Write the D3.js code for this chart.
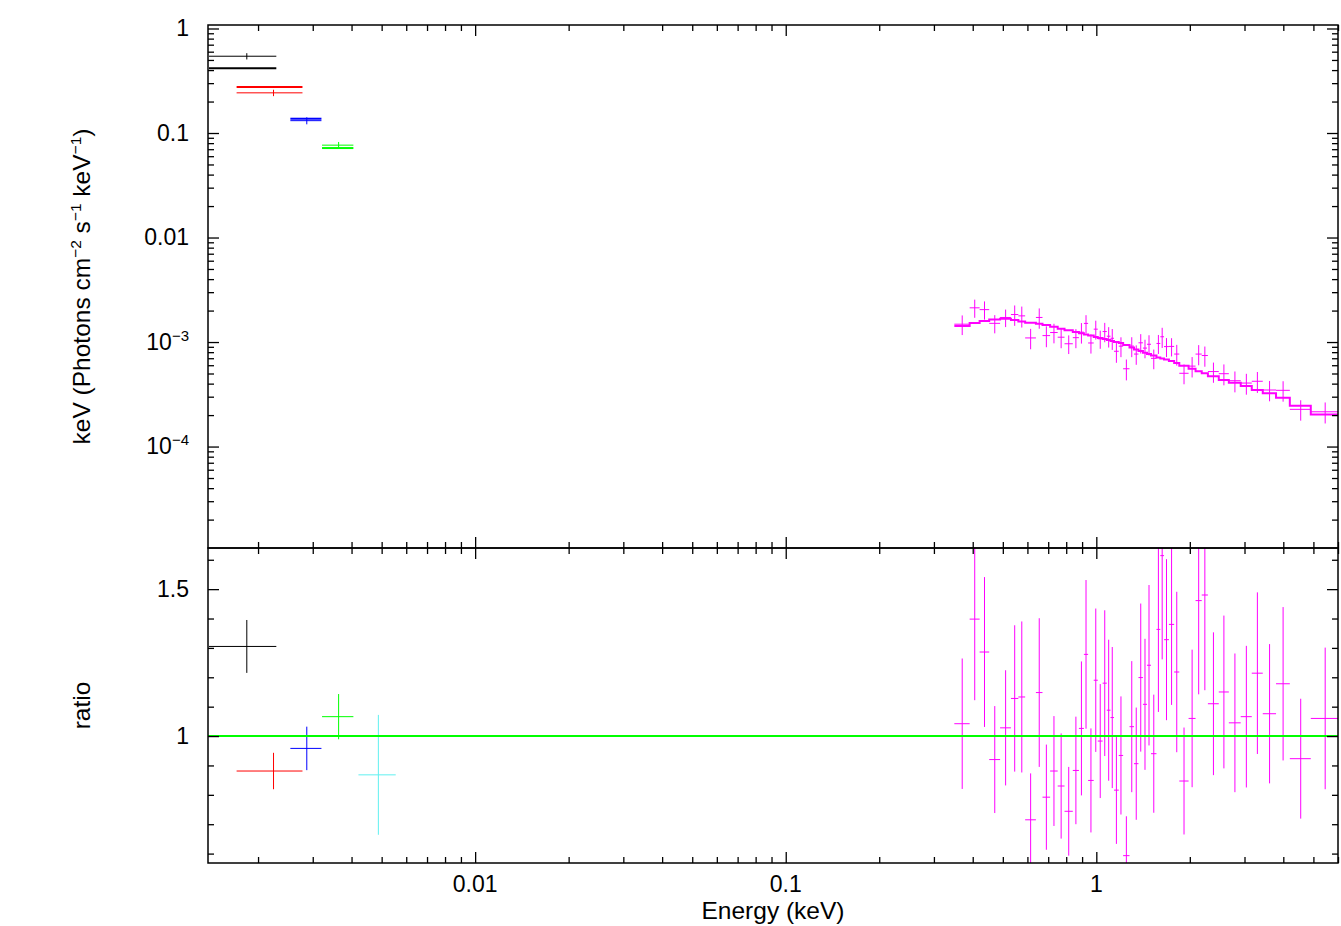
<!DOCTYPE html>
<html>
<head>
<meta charset="utf-8">
<script src="https://cdn.jsdelivr.net/npm/d3@7/dist/d3.min.js"></script>
<style>
	body { margin: 0; background: #fff; }
	text { font-family: "Liberation Sans", Arial, sans-serif; fill: #000; }
</style>
</head>
<body>
<div id="chart-area"></div>
<script>

// ---- XRT spectrum (keV), bin edges
var xrtEdges = [0.349, 0.391, 0.421, 0.452, 0.490, 0.531, 0.561, 0.590, 0.639, 0.671,
	0.710, 0.751, 0.790, 0.840, 0.879, 0.912, 0.941, 0.981, 1.011, 1.048,
	1.081, 1.111, 1.140, 1.181, 1.220, 1.279, 1.322, 1.367, 1.413, 1.456,
	1.500, 1.562, 1.607, 1.652, 1.713, 1.781, 1.850, 1.982, 2.087, 2.185,
	2.287, 2.479, 2.671, 2.917, 3.166, 3.435, 3.790, 4.198, 4.904, 6.008];

// model, in units of 1e-3 keV (Photons cm-2 s-1 keV-1)
var xrtModel = [1.422, 1.520, 1.588, 1.641, 1.671, 1.625, 1.571, 1.531, 1.497, 1.455,
	1.400, 1.340, 1.294, 1.247, 1.211, 1.180, 1.154, 1.116, 1.092, 1.068,
	1.045, 1.022, 1.000, 0.978, 0.936, 0.886, 0.847, 0.820, 0.790, 0.767,
	0.743, 0.711, 0.696, 0.681, 0.658, 0.630, 0.593, 0.555, 0.525, 0.502,
	0.470, 0.433, 0.408, 0.380, 0.347, 0.323, 0.293, 0.246, 0.203];

// data / model
var xrtRatio = [1.042, 1.398, 1.286, 0.920, 1.028, 1.128, 1.133, 0.715, 1.148, 0.792,
	0.881, 0.830, 0.744, 0.883, 1.026, 1.278, 0.849, 1.190, 0.983, 1.180,
	1.088, 1.063, 0.816, 0.934, 0.593, 1.032, 0.906, 1.199, 1.108, 1.241,
	0.940, 1.363, 1.614, 1.328, 1.380, 1.218, 0.847, 1.060, 1.461, 1.480,
	1.110, 1.150, 1.045, 1.066, 1.214, 1.076, 1.178, 0.923, 1.060];

var xrtRatioErr = [0.222, 0.276, 0.255, 0.182, 0.196, 0.249, 0.257, 0.158, 0.253, 0.179,
	0.187, 0.179, 0.151, 0.183, 0.228, 0.253, 0.177, 0.244, 0.194, 0.248,
	0.240, 0.240, 0.183, 0.201, 0.134, 0.223, 0.191, 0.252, 0.223, 0.273,
	0.201, 0.281, 0.353, 0.274, 0.274, 0.273, 0.182, 0.234, 0.319, 0.324,
	0.243, 0.260, 0.236, 0.241, 0.275, 0.237, 0.261, 0.204, 0.241];

// ---- UVOT filters (one bin each)
var uvotLo = [0.00139, 0.001706, 0.002541, 0.003214, 0.00421];
var uvotHi = [0.00229, 0.00278, 0.00320, 0.004055, 0.00555];
var uvotModel = [0.416, 0.275, 0.137, 0.0718, null];
var uvotRatio = [1.305, 0.881, 0.958, 1.066, 0.868];
var uvotRatioErr = [0.090, 0.062, 0.074, 0.077, 0.204];

// ---- ticks
var xTickValues = [0.01, 0.1, 1];
var xTickLabels = ["0.01", "0.1", "1"];
var fluxTickValues = [1, 0.1, 0.01, 1e-3, 1e-4];
var fluxTickLabels = [["1", ""], ["0.1", ""], ["0.01", ""], ["10", "\u22123"], ["10", "\u22124"]];
var ratioTickValues = [1, 1.5];
var ratioTickLabels = ["1", "1.5"];

// styles
var uvotColors = ["#000000", "#ff0000", "#0000ff", "#00ff00", "#5ff0f0"];
var xrtColor = "#ff00ff";

// SVG Size
var width = 1341,
	height = 926;

var plotL = 208, plotR = 1338, plotT = 25, plotM = 548, plotB = 863;

var svg = d3.select("#chart-area").append("svg")
	.attr("width", width)
	.attr("height", height);

var x = d3.scaleLog()
	.domain([0.00138, 6.0])
	.range([plotL, plotR]);

var yFlux = d3.scaleLog()
	.domain([1.07e-5, 1.08])
	.range([plotM, plotT]);

var yRatio = d3.scaleLinear()
	.domain([0.568, 1.64])
	.range([plotB, plotM]);

var defs = svg.append("defs");
defs.append("clipPath").attr("id", "clipTop").append("rect")
	.attr("x", plotL).attr("y", plotT).attr("width", plotR - plotL).attr("height", plotM - plotT);
defs.append("clipPath").attr("id", "clipBot").append("rect")
	.attr("x", plotL).attr("y", plotM).attr("width", plotR - plotL).attr("height", plotB - plotM);

var xrt = xrtModel.map(function(m, i) {
	return {
		lo: xrtEdges[i], hi: xrtEdges[i + 1],
		mid: (xrtEdges[i] + xrtEdges[i + 1]) / 2,
		model: m * 1e-3, ratio: xrtRatio[i], err: xrtRatioErr[i]
	};
});

var uvot = uvotLo.map(function(lo, i) {
	return {
		lo: lo, hi: uvotHi[i], mid: (lo + uvotHi[i]) / 2,
		model: uvotModel[i], ratio: uvotRatio[i], err: uvotRatioErr[i], color: uvotColors[i]
	};
});

// draw crosses: horizontal = bin width, vertical = error
function crosses(g, data, yScale, val, lo, hi, color) {
	var s = g.selectAll(null).data(data).enter().append("g")
		.attr("stroke", function(d) { return d.color || color; })
		.attr("stroke-width", 1)
		.attr("fill", "none");
	s.append("line")
		.attr("x1", function(d) { return x(d.lo); })
		.attr("x2", function(d) { return x(d.hi); })
		.attr("y1", function(d) { return yScale(val(d)); })
		.attr("y2", function(d) { return yScale(val(d)); });
	s.append("line")
		.attr("x1", function(d) { return x(d.mid); })
		.attr("x2", function(d) { return x(d.mid); })
		.attr("y1", function(d) { return yScale(lo(d)); })
		.attr("y2", function(d) { return yScale(hi(d)); });
}

// ---------- upper panel
var gTop = svg.append("g").attr("clip-path", "url(#clipTop)");

var uvotWithModel = uvot.filter(function(d) { return d.model !== null; });

crosses(gTop, uvotWithModel, yFlux,
	function(d) { return d.model * d.ratio; },
	function(d) { return d.model * (d.ratio - d.err); },
	function(d) { return d.model * (d.ratio + d.err); });

gTop.selectAll(".uvot-model").data(uvotWithModel).enter().append("line")
	.attr("class", "uvot-model")
	.attr("stroke", function(d) { return d.color; })
	.attr("stroke-width", 2)
	.attr("x1", function(d) { return x(d.lo); })
	.attr("x2", function(d) { return x(d.hi); })
	.attr("y1", function(d) { return yFlux(d.model); })
	.attr("y2", function(d) { return yFlux(d.model); });

crosses(gTop, xrt, yFlux,
	function(d) { return d.model * d.ratio; },
	function(d) { return d.model * (d.ratio - d.err); },
	function(d) { return d.model * (d.ratio + d.err); },
	xrtColor);

var stepPts = xrt.map(function(d) { return [d.lo, d.model]; });
stepPts.push([xrt[xrt.length - 1].hi, xrt[xrt.length - 1].model]);

gTop.append("path")
	.datum(stepPts)
	.attr("fill", "none")
	.attr("stroke", xrtColor)
	.attr("stroke-width", 2)
	.attr("d", d3.line()
		.x(function(d) { return x(d[0]); })
		.y(function(d) { return yFlux(d[1]); })
		.curve(d3.curveStepAfter));

// ---------- lower panel
var gBot = svg.append("g").attr("clip-path", "url(#clipBot)");

crosses(gBot, uvot, yRatio,
	function(d) { return d.ratio; },
	function(d) { return d.ratio - d.err; },
	function(d) { return d.ratio + d.err; });

crosses(gBot, xrt, yRatio,
	function(d) { return d.ratio; },
	function(d) { return d.ratio - d.err; },
	function(d) { return d.ratio + d.err; },
	xrtColor);

gBot.append("line")
	.attr("stroke", "#00ff00")
	.attr("stroke-width", 2)
	.attr("x1", plotL).attr("x2", plotR)
	.attr("y1", yRatio(1)).attr("y2", yRatio(1));

// ---------- ticks
var majorLen = 11, minorLen = 6;

function tickSet(axisFn, scale, values, len, tx, ty) {
	svg.append("g")
		.attr("transform", "translate(" + tx + "," + ty + ")")
		.call(axisFn(scale).tickValues(values).tickSize(-len).tickSizeOuter(0).tickFormat(""))
		.call(function(g) { g.select(".domain").remove(); })
		.selectAll("line").attr("stroke", "#000").attr("stroke-width", 1.3);
}

var xMinor = x.ticks().filter(function(v) { return xTickValues.indexOf(v) < 0; });
var fluxMinor = yFlux.ticks().filter(function(v) { return fluxTickValues.indexOf(v) < 0; });
var ratioMinor = yRatio.ticks(10).filter(function(v) { return ratioTickValues.indexOf(v) < 0; });

[[d3.axisTop, plotT], [d3.axisBottom, plotM], [d3.axisTop, plotM], [d3.axisBottom, plotB]].forEach(function(a) {
	tickSet(a[0], x, xMinor, minorLen, 0, a[1]);
	tickSet(a[0], x, xTickValues, majorLen, 0, a[1]);
});
[[d3.axisLeft, plotL], [d3.axisRight, plotR]].forEach(function(a) {
	tickSet(a[0], yFlux, fluxMinor, minorLen, a[1], 0);
	tickSet(a[0], yFlux, fluxTickValues, majorLen, a[1], 0);
	tickSet(a[0], yRatio, ratioMinor, minorLen, a[1], 0);
	tickSet(a[0], yRatio, ratioTickValues, majorLen, a[1], 0);
});

// frames
[[plotT, plotM], [plotM, plotB]].forEach(function(p) {
	svg.append("rect")
		.attr("x", plotL).attr("y", p[0])
		.attr("width", plotR - plotL).attr("height", p[1] - p[0])
		.attr("fill", "none").attr("stroke", "#000").attr("stroke-width", 1.5);
});

// ---------- labels
var tickFont = 23, titleFont = 24.5;

svg.selectAll(".xlab").data(xTickValues).enter().append("text")
	.attr("class", "xlab")
	.attr("x", function(d) { return x(d); })
	.attr("y", plotB + 29)
	.attr("text-anchor", "middle")
	.attr("font-size", tickFont)
	.text(function(d, i) { return xTickLabels[i]; });

var fl = svg.selectAll(".flab").data(fluxTickValues).enter().append("text")
	.attr("class", "flab")
	.attr("x", plotL - 19)
	.attr("y", function(d) { return yFlux(d) + 7.5; })
	.attr("text-anchor", "end")
	.attr("font-size", tickFont);
fl.append("tspan").text(function(d, i) { return fluxTickLabels[i][0]; });
fl.append("tspan")
	.attr("font-size", 15)
	.attr("dy", -9)
	.text(function(d, i) { return fluxTickLabels[i][1]; });

svg.selectAll(".rlab").data(ratioTickValues).enter().append("text")
	.attr("class", "rlab")
	.attr("x", plotL - 19)
	.attr("y", function(d) { return yRatio(d) + 7.5; })
	.attr("text-anchor", "end")
	.attr("font-size", tickFont)
	.text(function(d, i) { return ratioTickLabels[i]; });

svg.append("text")
	.attr("x", (plotL + plotR) / 2)
	.attr("y", plotB + 56)
	.attr("text-anchor", "middle")
	.attr("font-size", titleFont)
	.text("Energy (keV)");

var yt = svg.append("text")
	.attr("transform", "translate(90," + (plotT + plotM) / 2 + ") rotate(-90)")
	.attr("text-anchor", "middle")
	.attr("font-size", titleFont);
yt.append("tspan").text("keV (Photons cm");
yt.append("tspan").attr("font-size", 15.5).attr("dy", -9.5).text("\u22122");
yt.append("tspan").attr("dy", 9.5).text(" s");
yt.append("tspan").attr("font-size", 15.5).attr("dy", -9.5).text("\u22121");
yt.append("tspan").attr("dy", 9.5).text(" keV");
yt.append("tspan").attr("font-size", 15.5).attr("dy", -9.5).text("\u22121");
yt.append("tspan").attr("dy", 9.5).text(")");

svg.append("text")
	.attr("transform", "translate(90," + (plotM + plotB) / 2 + ") rotate(-90)")
	.attr("text-anchor", "middle")
	.attr("font-size", titleFont)
	.text("ratio");

</script>
</body>
</html>
